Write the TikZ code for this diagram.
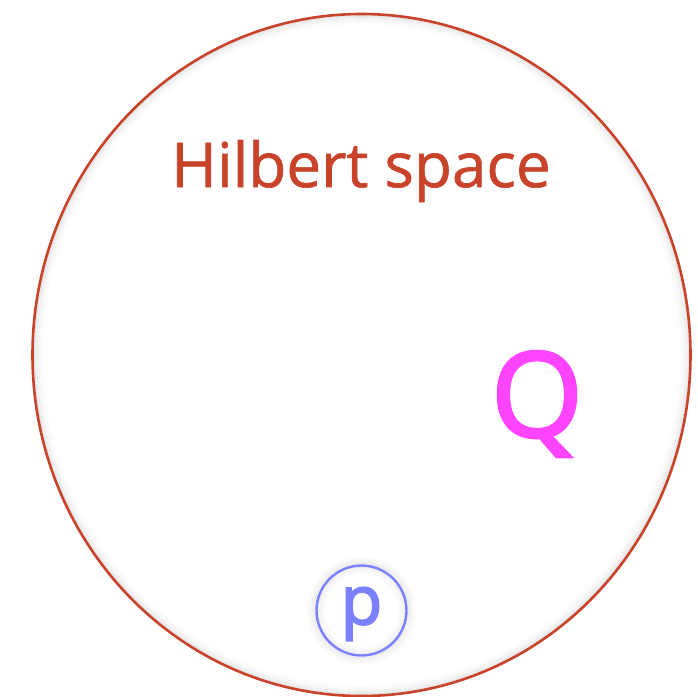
\documentclass[tikz,border=0pt]{standalone}
\usepackage{fontspec}
\setmainfont{Open Sans}
\newfontfamily\titlefont[FakeBold=1]{Open Sans}
\newfontfamily\letterfont[FakeBold=2.5]{Open Sans}
\definecolor{hred}{HTML}{C8432A}
\definecolor{pblue}{HTML}{7B80FF}
\definecolor{qmag}{HTML}{FF44FF}
\tikzset{
  outer/.style={draw=hred, line width=2.6pt},
  pcircle/.style={draw=pblue, line width=2.4pt, circle, minimum size=90pt, inner sep=0pt},
  glow/.style={draw=black, line width=1.6pt},
}
\begin{document}
\begin{tikzpicture}[x=1pt,y=-1pt]
\useasboundingbox (0,0) rectangle (697,697);
\fill[white] (0,0) rectangle (697,697);
% inner shadow of the big ellipse
\foreach \d/\o in {2/0.10,4/0.07,6/0.045,8/0.025,10/0.012}{
  \draw[glow, draw opacity=\o] (361.5,355) ellipse [x radius=329-\d, y radius=341-\d];
}
\draw[outer] (361.5,355) ellipse [x radius=329, y radius=341];
\node[text=hred, font=\titlefont\fontsize{62}{72}\selectfont] (title) at (361,171) {Hilbert space};
\node[text=qmag, font=\letterfont\fontsize{118}{130}\selectfont] (q) at (537,404) {Q};
% glow of small circle
\foreach \d/\o in {2/0.08,4/0.05,6/0.03,8/0.015}{
  \draw[glow, draw opacity=\o] (361.5,610.5) circle [radius=45.5-\d];
  \draw[glow, draw opacity=\o] (361.5,610.5) circle [radius=45.5+\d];
}
\node[pcircle] (p) at (361.5,610.5) {};
\node[text=pblue, font=\letterfont\fontsize{68}{74}\selectfont] (plabel) at (361.5,614) {p};
\end{tikzpicture}
\end{document}
